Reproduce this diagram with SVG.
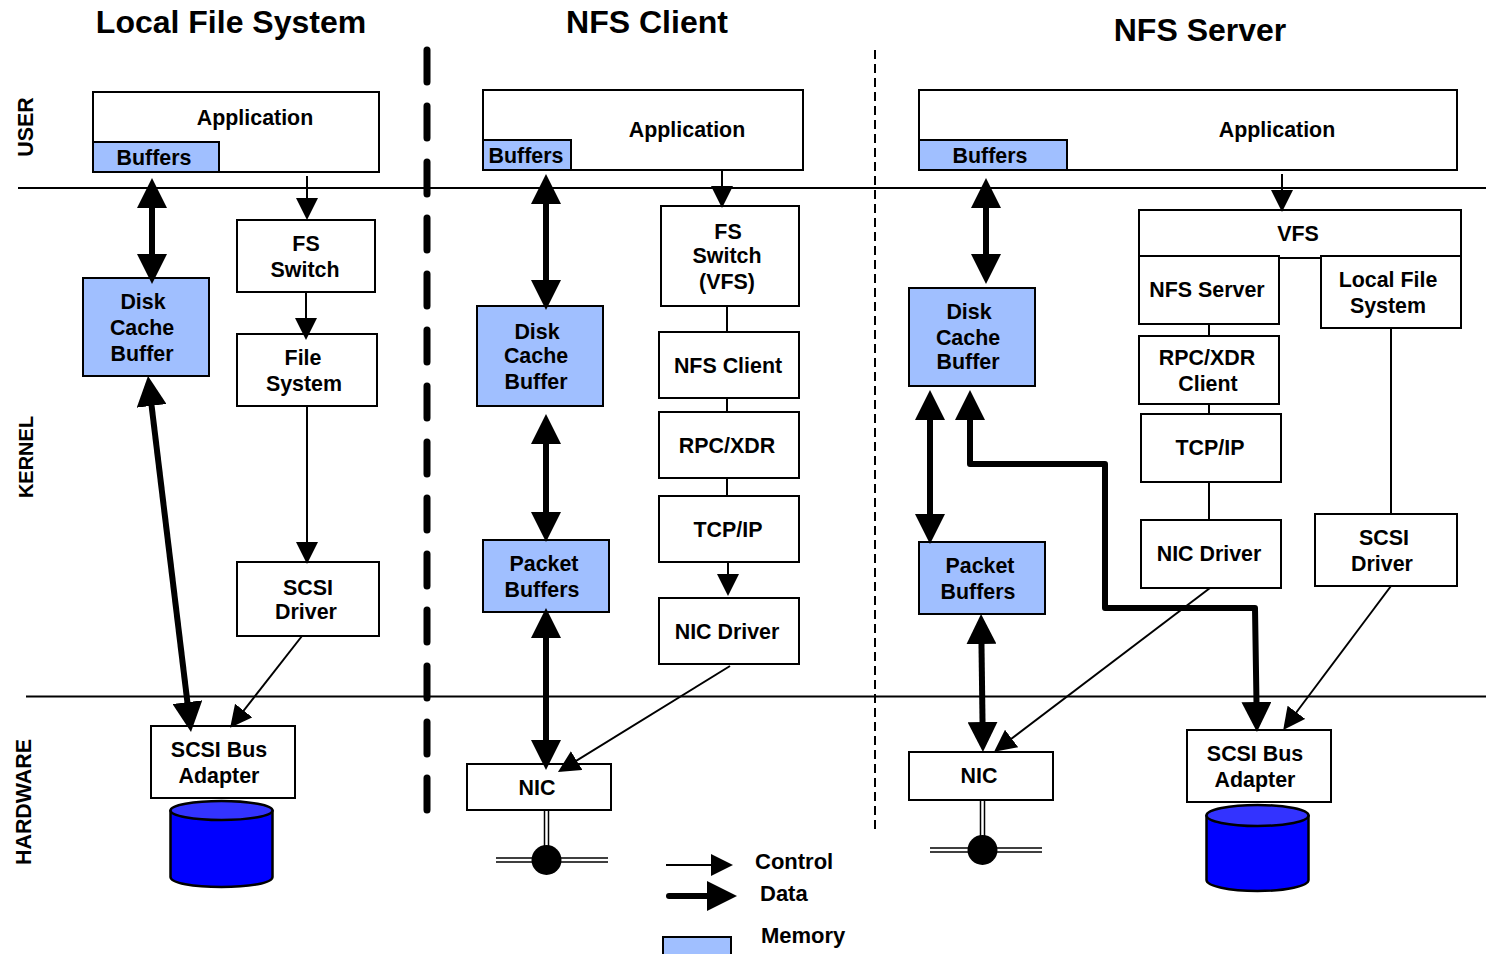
<svg xmlns="http://www.w3.org/2000/svg" width="1486" height="954" viewBox="0 0 1486 954">
<style>
text{font-family:"Liberation Sans",Arial,sans-serif;font-weight:700;font-size:21.4px;fill:#000;text-anchor:middle}
.title{font-size:32px}
.l{text-anchor:start;font-size:22px}
.box{fill:#fff;stroke:#000;stroke-width:2}
.mem{fill:#a0bfff;stroke:#000;stroke-width:2}
.thin{fill:none;stroke:#000;stroke-width:2}
.net{fill:none;stroke:#000;stroke-width:1.500}
.ctl{fill:none;stroke:#000;stroke-width:2;marker-end:url(#th)}
.data{fill:none;stroke:#000;stroke-width:6;stroke-linejoin:round;marker-end:url(#tk)}
.both{marker-start:url(#tk)}
.cyl{fill:#00f;stroke:#000;stroke-width:2.500}
.cylt{fill:#33f;stroke:#000;stroke-width:2.500}
</style>
<defs>
<marker id="tk" markerUnits="userSpaceOnUse" markerWidth="30" markerHeight="30" viewBox="0 0 30 30" refX="20" refY="15" orient="auto-start-reverse"><path d="M0 0L30 15L0 30Z"/></marker>
<marker id="th" markerUnits="userSpaceOnUse" markerWidth="22" markerHeight="22" viewBox="0 0 22 22" refX="19" refY="11" orient="auto-start-reverse"><path d="M0 0L22 11L0 22Z"/></marker>
</defs>
<text class="title" x="231" y="33">Local File System</text>
<text class="title" x="647" y="33">NFS Client</text>
<text class="title" x="1200" y="41">NFS Server</text>
<text transform="translate(33 127) rotate(-90)">USER</text>
<text transform="translate(33 457) rotate(-90)" style="font-size:20px">KERNEL</text>
<text transform="translate(31 802) rotate(-90)">HARDWARE</text>
<g id="separators">
<path d="M427 50V811" fill="none" stroke="#000" stroke-width="7" stroke-linecap="round" stroke-dasharray="32 24"/>
<path d="M875 50V830" fill="none" stroke="#000" stroke-width="2" stroke-dasharray="9 5"/>
<path class="thin" d="M18 188H1486M26 696.500H1486"/>
</g>
<g id="lfs-app"><rect class="box" x="93" y="92" width="286" height="80"/><text x="255" y="125">Application</text></g>
<g id="lfs-buffers"><rect class="mem" x="93" y="142" width="126" height="30"/><text x="154" y="165">Buffers</text></g>
<g id="lfs-switch"><rect class="box" x="237" y="220" width="138" height="72"/><text x="306" y="251">FS</text><text x="305" y="277">Switch</text></g>
<g id="lfs-fs"><rect class="box" x="237" y="334" width="140" height="72"/><text x="303" y="365">File</text><text x="304" y="391">System</text></g>
<g id="lfs-cache"><rect class="mem" x="83" y="278" width="126" height="98"/><text x="143" y="309">Disk</text><text x="142" y="335">Cache</text><text x="142" y="361">Buffer</text></g>
<g id="lfs-scsi"><rect class="box" x="237" y="562" width="142" height="74"/><text x="308" y="595">SCSI</text><text x="306" y="619">Driver</text></g>
<g id="lfs-adapter"><rect class="box" x="151" y="726" width="144" height="72"/><text x="219" y="757">SCSI Bus</text><text x="219" y="783">Adapter</text></g>
<g id="lfs-disk"><path class="cyl" d="M170.500 811V877C170.500 883 193 887 221.500 887S272.500 883 272.500 877V811Z"/><ellipse class="cylt" cx="221.500" cy="810.500" rx="51" ry="9.500"/></g>

<g id="cl-app"><rect class="box" x="483" y="90" width="320" height="80"/><text x="687" y="137">Application</text></g>
<g id="cl-buffers"><rect class="mem" x="483" y="140" width="88" height="30"/><text x="526" y="163">Buffers</text></g>
<g id="cl-switch"><rect class="box" x="661" y="206" width="138" height="100"/><text x="728" y="239">FS</text><text x="727" y="263">Switch</text><text x="727" y="289">(VFS)</text></g>
<g id="cl-nfs"><rect class="box" x="659" y="332" width="140" height="66"/><text x="728" y="373">NFS Client</text></g>
<g id="cl-rpc"><rect class="box" x="659" y="412" width="140" height="66"/><text x="727" y="453">RPC/XDR</text></g>
<g id="cl-tcp"><rect class="box" x="659" y="496" width="140" height="66"/><text x="728" y="537">TCP/IP</text></g>
<g id="cl-drv"><rect class="box" x="659" y="598" width="140" height="66"/><text x="727" y="639">NIC Driver</text></g>
<g id="cl-cache"><rect class="mem" x="477" y="306" width="126" height="100"/><text x="537" y="339">Disk</text><text x="536" y="363">Cache</text><text x="536" y="389">Buffer</text></g>
<g id="cl-packet"><rect class="mem" x="483" y="540" width="126" height="72"/><text x="544" y="571">Packet</text><text x="542" y="597">Buffers</text></g>
<g id="cl-nic"><rect class="box" x="467" y="764" width="144" height="46"/><text x="537" y="795">NIC</text></g>
<g id="cl-net"><path class="net" d="M544.500 810V850M548.500 810V850M496 858H608M496 862H608"/><circle cx="546.500" cy="860" r="15"/></g>

<g id="sv-app"><rect class="box" x="919" y="90" width="538" height="80"/><text x="1277" y="137">Application</text></g>
<g id="sv-buffers"><rect class="mem" x="919" y="140" width="148" height="30"/><text x="990" y="163">Buffers</text></g>
<g id="sv-vfs"><rect class="box" x="1139" y="210" width="322" height="48"/><text x="1298" y="241">VFS</text></g>
<g id="sv-nfs"><rect class="box" x="1139" y="256" width="140" height="68"/><text x="1207" y="297">NFS Server</text></g>
<g id="sv-lfs"><rect class="box" x="1321" y="256" width="140" height="72"/><text x="1388" y="287">Local File</text><text x="1388" y="313">System</text></g>
<g id="sv-rpc"><rect class="box" x="1139" y="336" width="140" height="68"/><text x="1207" y="365">RPC/XDR</text><text x="1208" y="391">Client</text></g>
<g id="sv-tcp"><rect class="box" x="1141" y="414" width="140" height="68"/><text x="1210" y="455">TCP/IP</text></g>
<g id="sv-drv"><rect class="box" x="1141" y="520" width="140" height="68"/><text x="1209" y="561">NIC Driver</text></g>
<g id="sv-scsi"><rect class="box" x="1315" y="514" width="142" height="72"/><text x="1384" y="545">SCSI</text><text x="1382" y="571">Driver</text></g>
<g id="sv-cache"><rect class="mem" x="909" y="288" width="126" height="98"/><text x="969" y="319">Disk</text><text x="968" y="345">Cache</text><text x="968" y="369">Buffer</text></g>
<g id="sv-packet"><rect class="mem" x="919" y="542" width="126" height="72"/><text x="980" y="573">Packet</text><text x="978" y="599">Buffers</text></g>
<g id="sv-nic"><rect class="box" x="909" y="752" width="144" height="48"/><text x="979" y="783">NIC</text></g>
<g id="sv-net"><path class="net" d="M980.500 800V840M984.500 800V840M930 848H1042M930 852H1042"/><circle cx="982.500" cy="850" r="15"/></g>
<g id="sv-adapter"><rect class="box" x="1187" y="730" width="144" height="72"/><text x="1255" y="761">SCSI Bus</text><text x="1255" y="787">Adapter</text></g>
<g id="sv-disk"><path class="cyl" d="M1206.500 816V880C1206.500 886 1229 891 1257.500 891S1308.500 886 1308.500 880V816Z"/><ellipse class="cylt" cx="1257.500" cy="815.500" rx="51" ry="10.500"/></g>

<g id="connectors">
<path class="thin" d="M727 306V332M727 398V412M727 478V496M1209 324V336M1209 404V414M1209 482V520M1391 328V514"/>
<path class="data both" d="M152 188V274"/>
<path class="data both" d="M149.200 386L189.800 722"/>
<path class="data both" d="M546 184V300"/>
<path class="data both" d="M546 424V532"/>
<path class="data both" d="M546 618V760"/>
<path class="data both" d="M986 188V274"/>
<path class="data both" d="M930 400V534"/>
<path class="data both" d="M981.200 624L982.800 742"/>
<path class="data both" d="M970 400V464H1105V608H1255L1256.800 722"/>
<path class="ctl" d="M307 176V217"/>
<path class="ctl" d="M306 292V337"/>
<path class="ctl" d="M307 406V561"/>
<path class="ctl" d="M302 636L232 725.500"/>
<path class="ctl" d="M722 170V205"/>
<path class="ctl" d="M728 562V593"/>
<path class="ctl" d="M730 666L560.500 770.500"/>
<path class="ctl" d="M1282 174V209"/>
<path class="ctl" d="M1210 588L996.500 750"/>
<path class="ctl" d="M1391 586L1285 727.500"/>
<path class="data" stroke-linecap="round" d="M669 896H727"/>
<path class="ctl" d="M666 865H730"/>
</g>
<g id="legend">
<text class="l" x="755" y="869">Control</text>
<text class="l" x="760" y="901">Data</text>
<text class="l" x="761" y="943">Memory</text>
<rect class="mem" x="663" y="937" width="68" height="24"/>
</g>
</svg>
